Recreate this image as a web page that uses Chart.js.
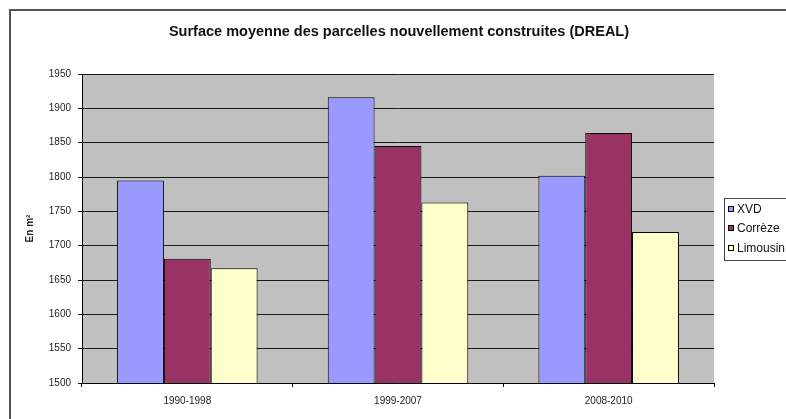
<!DOCTYPE html>
<html lang="fr">
<head>
<meta charset="utf-8">
<title>Surface moyenne des parcelles nouvellement construites (DREAL)</title>
<script src="https://cdn.jsdelivr.net/npm/chart.js@4.4.1/dist/chart.umd.min.js"></script>
<style>
  html, body { margin: 0; padding: 0; background: #ffffff; overflow: hidden; }
  #wrap { position: relative; width: 786px; height: 419px; }
</style>
</head>
<body>
<div id="wrap"><canvas id="chart" width="786" height="419"></canvas></div>
<script>
// Périodes et surfaces moyennes (m²)
const periodes = ['1990-1998', '1999-2007', '2008-2010'];
const xvd      = [1795, 1916, 1802];
const correze  = [1681, 1845, 1864];
const limousin = [1667, 1763, 1720];

const serieNoms    = ['XVD', 'Corrèze', 'Limousin'];
const serieCouleurs = ['#9999ff', '#993366', '#ffffcc'];

const FONT = '"Liberation Sans", Arial, sans-serif';

// Cadre, fond gris de la zone de tracé, titre et légende
const decor = {
  id: 'decor',
  beforeDraw(chart) {
    const { ctx, chartArea: a } = chart;
    ctx.save();
    ctx.fillStyle = '#c0c0c0';
    ctx.fillRect(a.left, a.top, a.right - a.left, a.bottom - a.top);
    ctx.restore();
  },
  afterDraw(chart) {
    const { ctx } = chart;
    ctx.save();
    // cadre extérieur
    ctx.strokeStyle = '#555555';
    ctx.lineWidth = 2;
    ctx.beginPath();
    ctx.moveTo(10, 430);
    ctx.lineTo(10, 10);
    ctx.lineTo(800, 10);
    ctx.stroke();

    // titre
    ctx.fillStyle = '#111111';
    ctx.font = 'bold 14.5px ' + FONT;
    ctx.textAlign = 'center';
    ctx.textBaseline = 'middle';
    ctx.fillText('Surface moyenne des parcelles nouvellement construites (DREAL)', 399, 32);

    // légende
    ctx.strokeStyle = '#444444';
    ctx.lineWidth = 1;
    ctx.strokeRect(724.5, 198.5, 80, 62);
    ctx.font = '12px ' + FONT;
    ctx.textAlign = 'left';
    const ys = [209, 228, 248];
    chart.data.datasets.forEach((ds, i) => {
      ctx.fillStyle = ds.backgroundColor;
      ctx.fillRect(728.5, ys[i] - 2.5, 5, 5);
      ctx.strokeStyle = '#000000';
      ctx.strokeRect(728.5, ys[i] - 2.5, 5, 5);
      ctx.fillStyle = '#111111';
      ctx.fillText(ds.label, 737, ys[i] + 0.5);
    });
    ctx.restore();
  }
};

const datasets = [xvd, correze, limousin].map((vals, i) => ({
  label: serieNoms[i],
  data: vals,
  backgroundColor: serieCouleurs[i],
  borderColor: '#000000',
  borderWidth: 1,
  borderSkipped: false,
  categoryPercentage: 0.667,
  barPercentage: 1.0
}));

new Chart(document.getElementById('chart'), {
  type: 'bar',
  data: { labels: periodes, datasets },
  plugins: [decor],
  options: {
    responsive: false,
    animation: false,
    devicePixelRatio: 1,
    layout: { padding: { left: 20, right: 72, top: 74, bottom: 0 } },
    plugins: {
      legend: { display: false },
      title: { display: false },
      tooltip: { enabled: false }
    },
    scales: {
      x: {
        offset: true,
        afterFit(scale) { scale.height = 36; },
        grid: {
          offset: true,
          drawOnChartArea: false,
          drawTicks: true,
          tickLength: 4,
          color: '#000000'
        },
        border: { display: true, color: '#000000', width: 1 },
        ticks: {
          padding: 8,
          color: '#222222',
          font: { family: FONT, size: 10 },
          maxRotation: 0
        }
      },
      y: {
        min: 1500,
        max: 1950,
        afterFit(scale) { scale.width = 62; },
        title: {
          display: true,
          text: 'En m²',
          color: '#222222',
          padding: { top: 4, bottom: 0 },
          font: { family: FONT, size: 10, weight: 'bold' }
        },
        grid: {
          color: '#1a1a1a',
          lineWidth: 1,
          drawTicks: true,
          tickLength: 4
        },
        border: { display: true, color: '#000000', width: 1 },
        ticks: {
          stepSize: 50,
          padding: 7,
          color: '#222222',
          font: { family: FONT, size: 10 },
          callback: (v) => String(v)
        }
      }
    }
  }
});
</script>
</body>
</html>
